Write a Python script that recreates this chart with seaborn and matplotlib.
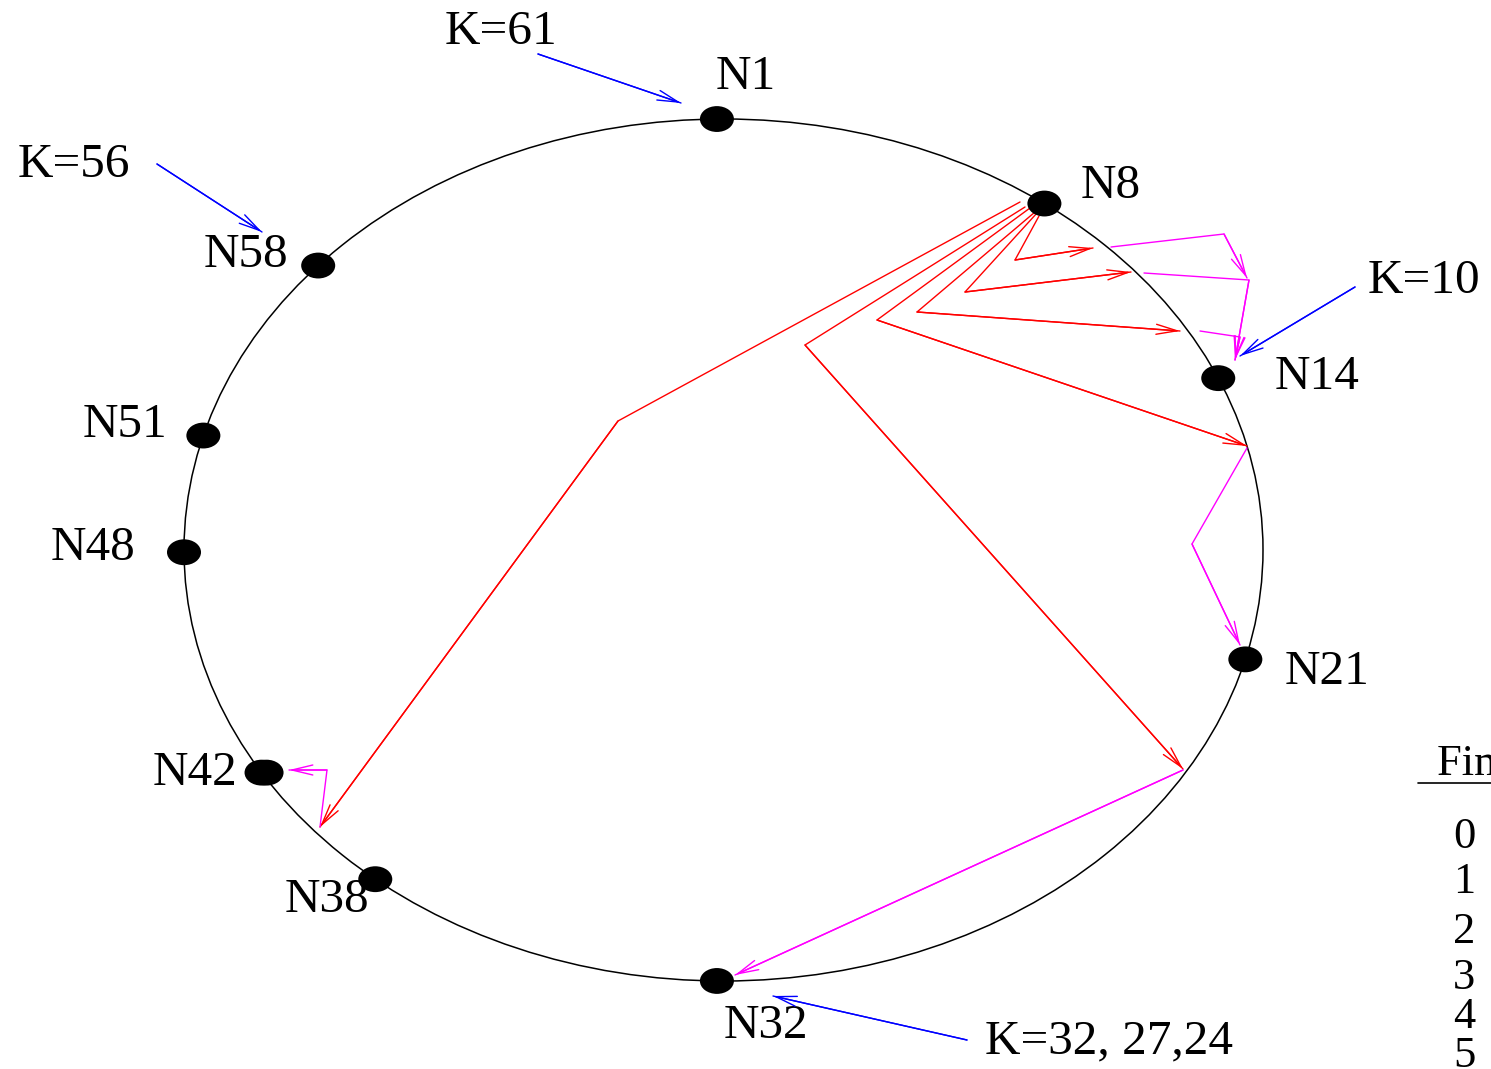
import numpy as np
import pandas as pd
import matplotlib
matplotlib.use("Agg")
import matplotlib.pyplot as plt
from matplotlib.patches import Ellipse
from matplotlib.path import Path
from matplotlib.markers import MarkerStyle
import seaborn as sns

# ---------------- data ----------------
node_names = ["N1", "N8", "N14", "N21", "N32", "N38", "N42", "N48", "N51", "N58"]
# angular position on the ring, degrees clockwise from top
node_angles = [-0.7, 36.5, 66.5, 104.7, 180.7, 220.2, 238.9, 269.7, 285.4, 311.3]

# lookup hops from N8 (red) and follow-up hops (magenta), picture coordinates
red_paths = [
    [(1039, 216), (1015, 260), (1093, 248)],
    [(1037, 213), (965, 292), (1131, 272)],
    [(1035, 212), (917, 312), (1180, 331)],
    [(1030, 208), (877, 320), (1247, 446)],
    [(1025, 207), (805, 345), (1183, 769)],
    [(1020, 202), (618, 421), (320, 827)],
]
magenta_paths = [
    [(1111, 247), (1224, 234), (1247, 278)],
    [(1144, 273), (1249, 280), (1235, 360)],
    [(1200, 331), (1240, 337), (1235, 360)],
    [(1247, 448), (1192, 544), (1240, 645)],
    [(1183, 770), (735, 975)],
    [(320, 827), (327, 770), (289, 770)],
]
key_labels = ["K=61", "K=56", "K=10", "K=32, 27,24"]
key_arrows = [
    [(538, 54), (681, 103)],
    [(157, 164), (262, 232)],
    [(1355, 287), (1240, 356)],
    [(967, 1040), (773, 996)],
]
table_title = "Finger table"
table_index = ["0", "1", "2", "3", "4", "5"]

# ---------------- layout ----------------
W, H = 1491, 1069
ring_cx, ring_cy, ring_rx, ring_ry = 723.5, 550.0, 539.5, 431.0
node_label_pos = {
    "N1": (746, 89), "N8": (1111, 198), "N14": (1317, 389), "N21": (1327, 684),
    "N32": (766, 1038), "N38": (327, 912), "N42": (195, 785), "N48": (93, 560),
    "N51": (125, 437), "N58": (246, 267),
}
key_label_pos = [(501, 44), (74, 177), (1424, 293), (1109, 1053)]
table_title_pos = (1437, 775)
table_rule_y = 783
table_rule_x0 = 1418
table_digit_x = 1464
table_digit_y = [848, 893, 943, 989, 1028, 1067]

LABEL_FS = 35.5
TABLE_FS = 32
RED, MAG, BLUE = "#ff0000", "#ff00ff", "#0000ff"

sns.set_theme(style="white")
plt.rcParams["font.family"] = ["Liberation Serif", "DejaVu Serif"]

fig = plt.figure(figsize=(W / 100, H / 100), dpi=100)
ax = fig.add_axes([0, 0, 1, 1])
ax.set_xlim(0, W)
ax.set_ylim(H, 0)
ax.axis("off")

# ring
ax.add_patch(Ellipse((ring_cx, ring_cy), 2 * ring_rx, 2 * ring_ry,
                     fill=False, edgecolor="black", lw=1.1, zorder=1))

# nodes
th = np.deg2rad(np.array(node_angles))
nodes = pd.DataFrame({
    "name": node_names,
    "x": ring_cx + ring_rx * np.sin(th),
    "y": ring_cy - ring_ry * np.cos(th),
})
circ = Path.unit_circle()
ell_path = Path(circ.vertices * np.array([1.0, 0.76]), circ.codes)
ell_marker = MarkerStyle(ell_path)
sns.scatterplot(data=nodes, x="x", y="y", marker=ell_marker, s=600,
                color="black", edgecolor="none", ax=ax, zorder=5, legend=False)
# the N42 dot looks doubled in the reference
n42 = nodes[nodes["name"] == "N42"]
sns.scatterplot(x=n42["x"] + 5, y=n42["y"], marker=ell_marker, s=600,
                color="black", edgecolor="none", ax=ax, zorder=5, legend=False)

for name, (lx, ly) in node_label_pos.items():
    ax.text(lx, ly, name, ha="center", va="baseline", fontsize=LABEL_FS, color="black")


def arrow_path(pts, color):
    df = pd.DataFrame(pts, columns=["x", "y"])
    sns.lineplot(data=df, x="x", y="y", sort=False, color=color, lw=1.0,
                 ax=ax, zorder=3, estimator=None)
    ax.annotate("", xy=pts[-1], xytext=pts[-2],
                arrowprops=dict(arrowstyle="->,head_length=15,head_width=3.6",
                                mutation_scale=1, color=color, lw=1.0,
                                shrinkA=0, shrinkB=0), zorder=3)


for p in red_paths:
    arrow_path(p, RED)
for p in magenta_paths:
    arrow_path(p, MAG)
for p in key_arrows:
    arrow_path(p, BLUE)

for lab, (lx, ly) in zip(key_labels, key_label_pos):
    ax.text(lx, ly, lab, ha="center", va="baseline", fontsize=LABEL_FS, color="black")

# finger table (cropped at the right edge, as in the reference)
ax.text(table_title_pos[0], table_title_pos[1], table_title, ha="left",
        va="baseline", fontsize=TABLE_FS, color="black")
ax.plot([table_rule_x0, W + 50], [table_rule_y, table_rule_y], color="black", lw=1.2)
for d, yy in zip(table_index, table_digit_y):
    ax.text(table_digit_x, yy, d, ha="center", va="baseline", fontsize=TABLE_FS,
            color="black")

fig.savefig("out.png", dpi=100)
